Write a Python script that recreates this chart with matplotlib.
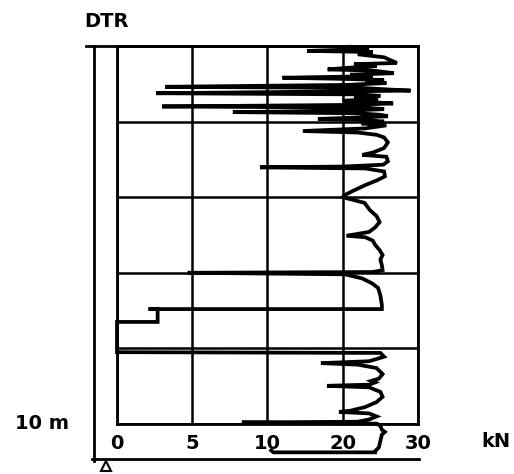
import numpy as np
import matplotlib
matplotlib.use("Agg")
import matplotlib.pyplot as plt

# penetration log: force (kN) against depth (m)
depth_m = [
    0.02, 0.06, 0.10, 0.13, 0.16, 0.22, 0.30, 0.45, 0.48, 0.53,
    0.58, 0.62, 0.65, 0.72, 0.76, 0.80, 0.84, 0.87, 0.90, 0.95,
    0.98, 1.03, 1.08, 1.11, 1.15, 1.18, 1.20, 1.25, 1.28, 1.32,
    1.36, 1.40, 1.45, 1.49, 1.52, 1.56, 1.60, 1.63, 1.67, 1.71,
    1.75, 1.78, 1.82, 1.86, 1.90, 1.93, 1.96, 2.00, 2.05, 2.10,
    2.18, 2.25, 2.29, 2.35, 2.42, 2.55, 2.70, 2.82, 2.88, 2.93,
    3.05, 3.14, 3.19, 3.21, 3.24, 3.32, 3.45, 3.55, 3.68, 3.82,
    3.94, 4.00, 4.15, 4.34, 4.50, 4.66, 4.80, 4.92, 5.02, 5.06,
    5.15, 5.26, 5.40, 5.53, 5.65, 5.80, 5.93, 5.98, 6.00, 6.04,
    6.15, 6.28, 6.40, 6.60, 6.85, 6.96, 6.96, 6.96, 7.30, 7.30,
    8.10, 8.12, 8.22, 8.34, 8.39, 8.43, 8.52, 8.68, 8.80, 8.86,
    8.90, 8.96, 8.99, 9.03, 9.15, 9.28, 9.42, 9.55, 9.65, 9.68,
    9.72, 9.80, 9.88, 9.94, 9.96, 9.99, 10.05, 10.15, 10.21, 10.28,
    10.45, 10.62, 10.72, 10.75, 10.75, 10.70,
]
force_kn = [
    21.0, 23.5, 20.0, 15.3, 24.0, 22.0, 25.5, 27.2, 21.5, 24.5,
    20.5, 18.0, 24.0, 26.8, 21.0, 24.0, 12.0, 20.0, 25.5, 23.0,
    25.8, 20.5, 3.2, 22.5, 26.0, 29.0, 21.0, 2.6, 22.0, 25.0,
    21.5, 24.7, 20.0, 24.0, 26.7, 20.5, 3.0, 23.0, 25.5, 21.0,
    7.7, 22.0, 25.0, 26.0, 21.0, 16.7, 23.0, 25.5, 22.5, 25.8,
    23.0, 14.7, 22.0, 24.5, 25.5, 26.0, 25.5, 24.0, 22.6, 25.8,
    26.0, 25.4, 20.0, 9.5, 23.0, 25.5, 25.6, 24.6, 23.0, 21.5,
    20.3, 20.0, 22.9, 23.6, 24.5, 24.9, 24.3, 23.5, 20.5, 23.0,
    24.0, 24.3, 24.9, 25.3, 25.0, 25.2, 25.3, 24.0, 4.7, 20.3,
    22.6, 23.9, 24.7, 25.0, 25.2, 25.2, 2.1, 2.7, 2.7, 0.0,
    0.0, 25.0, 25.5, 23.5, 17.1, 22.0, 24.5, 25.3, 24.8, 23.8,
    24.3, 23.5, 17.9, 23.5, 25.0, 25.3, 24.5, 23.0, 21.0, 19.5,
    23.5, 24.5, 23.5, 22.0, 8.3, 24.5, 25.0, 25.2, 25.6, 25.2,
    25.0, 24.8, 24.3, 24.3, 10.8, 10.5,
]

kn_ticks = [0, 5, 10, 20, 30]
depth_grid = [0, 2, 4, 6, 8, 10]

# the force axis is stretched piecewise: 0-5-10-20-30 equally spaced
_u = np.arange(len(kn_ticks))


def fwd(x):
    return np.interp(x, kn_ticks, _u)


def inv(u):
    return np.interp(u, _u, kn_ticks)


plt.rcParams.update({"font.family": "DejaVu Sans", "font.weight": "bold"})
fig = plt.figure(figsize=(5.14, 4.74), dpi=100)
ax = fig.add_axes([0.2276, 0.1055, 0.5856, 0.7975])
ax.set_xscale("function", functions=(fwd, inv))
ax.set_xlim(0, 30)
ax.set_ylim(10, 0)

ax.set_xticks(kn_ticks)
ax.set_xticklabels([str(t) for t in kn_ticks], fontsize=14, fontweight="bold")
ax.set_yticks(depth_grid)
ax.set_yticklabels([])
ax.tick_params(length=0, pad=7)
ax.grid(True, color="black", lw=1.8)
for s in ax.spines.values():
    s.set_linewidth(2.0)

ax.plot(force_kn, depth_m, color="black", lw=2.7, solid_joinstyle="miter",
        clip_on=False, zorder=3)

# outer frame around the log
frame = dict(color="black", lw=2.0, transform=ax.transAxes, clip_on=False)
ax.plot([-0.0764, -0.0764], [1.0, -0.098], **frame)
ax.plot([-0.103, 1.0], [1.0, 1.0], **frame)
ax.plot([-0.083, 1.003], [-0.0926, -0.0926], **frame)
ax.plot([-0.035], [-0.112], marker="^", ms=7, mfc="white", mec="black",
        mew=1.5, transform=ax.transAxes, clip_on=False)

fig.text(0.208, 0.9536, "DTR", fontsize=14, fontweight="bold", ha="center", va="center")
fig.text(0.0817, 0.1055, "10 m", fontsize=14, fontweight="bold", ha="center", va="center")
fig.text(0.965, 0.0696, "kN", fontsize=14, fontweight="bold", ha="center", va="center")

fig.savefig("out.png", dpi=100)
